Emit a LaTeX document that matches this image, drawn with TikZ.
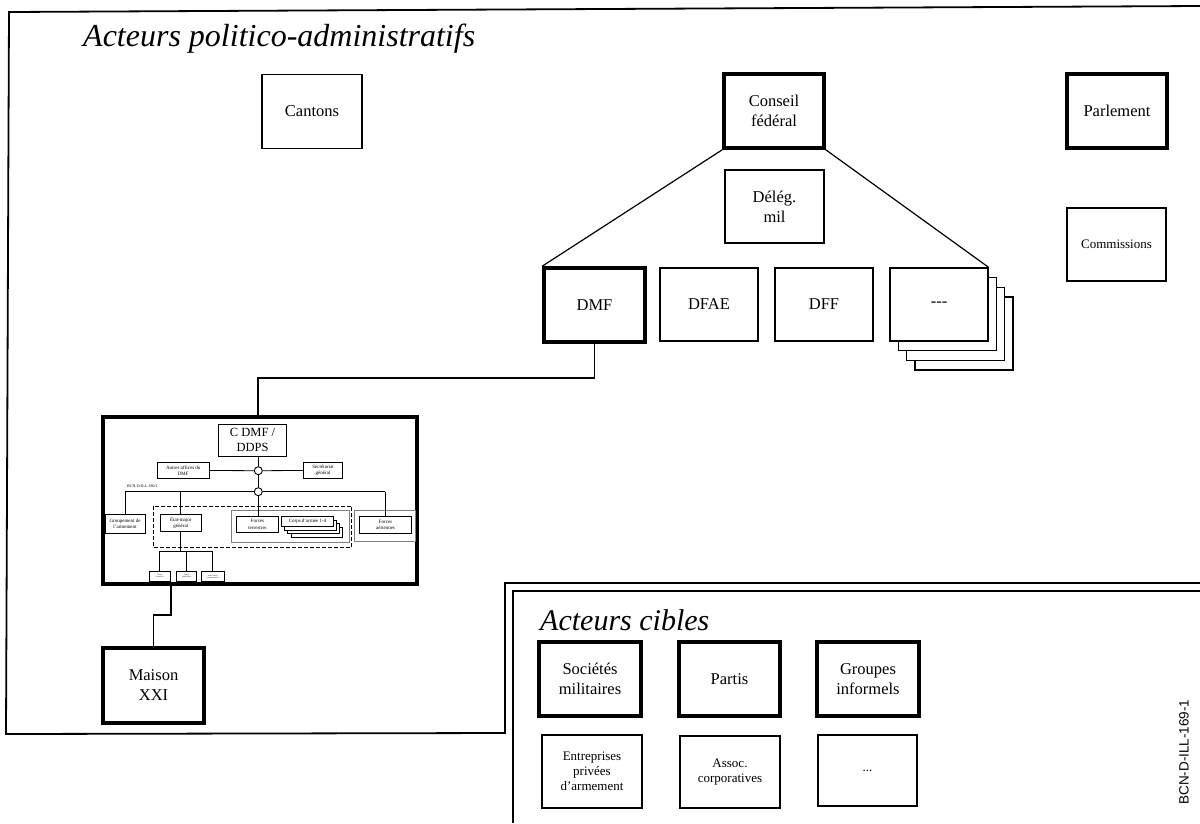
\documentclass[tikz,border=0pt]{standalone}
\usepackage{fontspec}
\setmainfont{Liberation Serif}
\newfontfamily\sansf{Liberation Sans}
\begin{document}
\begin{tikzpicture}[x=1pt,y=-1pt,
  bx/.style={draw, line width=1.3pt, fill=white, inner sep=0pt, align=center, font=\fontsize{16.5}{20}\selectfont},
  tbx/.style={bx, line width=3.6pt},
  smallfont/.style={font=\fontsize{13}{15}\selectfont},
  sbx/.style={draw, line width=0.9pt, fill=white, inner sep=0pt, align=center, font=\fontsize{5}{6.5}\selectfont},
  tiny/.style={draw, line width=0.7pt, fill=white, inner sep=0pt, align=center, font=\fontsize{1.8}{2.4}\selectfont},
  grp/.style={draw=gray, line width=0.6pt},
  frame/.style={line width=1.8pt},
  conn/.style={line width=1.2pt},
  sconn/.style={line width=0.8pt},
  title/.style={anchor=base west, inner sep=0pt, font=\fontsize{32}{36}\selectfont\itshape},
]
\useasboundingbox (0,0) rectangle (1200,823);
% frames
\draw[frame] (1200,6) -- (9,12) -- (6,734) -- (505,733) -- (505,583) -- (1200,583);
\draw[frame] (1200,591) -- (513,591) -- (513,823);

% titles
\node[title] (t1) at (83,46) {Acteurs politico-administratifs};
\node[title, font=\fontsize{30}{34}\selectfont\itshape] (t2) at (540,630) {Acteurs cibles};

% top nodes
\node[bx, minimum width=100, minimum height=74] (cantons) at (312,111.5) {Cantons};
\node[tbx, minimum width=100, minimum height=74] (conseil) at (774,111) {Conseil\\fédéral};
\node[tbx, minimum width=100, minimum height=74] (parl) at (1117,111) {Parlement};
\node[bx, minimum width=99, minimum height=73] (deleg) at (774.5,206.5) {Délég.\\mil};
\node[bx, smallfont, minimum width=99, minimum height=73] (comm) at (1116.5,244.5) {Commissions};

% departments
\node[tbx, minimum width=101, minimum height=74] (dmf) at (594.5,305) {DMF};
\node[bx, minimum width=98, minimum height=73] (dfae) at (709,304.5) {DFAE};
\node[bx, minimum width=98, minimum height=73] (dff) at (824,304.5) {DFF};
\node[bx, minimum width=98, minimum height=73] (etc3) at (964,333.5) {};
\node[bx, minimum width=98, minimum height=73] (etc2) at (955.6,323.9) {};
\node[bx, minimum width=98, minimum height=73] (etc1) at (947.3,314.2) {};
\node[bx, minimum width=98, minimum height=73] (etc) at (939,304.5) {-{}-{}-};

\draw[conn] (conseil.south west) -- (dmf.north west);
\draw[conn] (conseil.south east) -- (etc.north east);

% embedded diagram box
\node[tbx, minimum width=314, minimum height=167] (big) at (260,500.5) {};
\coordinate (j1) at (258,378);
\draw[conn] (dmf.south) |- (j1) -- (j1 |- big.north);

% embedded content
\node[sbx, font=\fontsize{12.5}{15}\selectfont, minimum width=68, minimum height=32] (cdmf) at (252.5,440) {C DMF /\\DDPS};
\node[draw, circle, fill=white, line width=0.9pt, minimum size=8, inner sep=0pt] (c1) at (258.3,470.7) {};
\node[draw, circle, fill=white, line width=0.9pt, minimum size=8, inner sep=0pt] (c2) at (258.3,491.7) {};
\node[sbx, minimum width=52, minimum height=15.6] (autres) at (183.3,470.5) {Autres offices du\\DMF};
\node[sbx, minimum width=39.4, minimum height=15.6] (secr) at (323,470.5) {Secrétariat\\général};
\node[anchor=base west, inner sep=0pt, font=\fontsize{4}{5}\selectfont] (bcn180) at (127,487.5) {BCN-D-ILL-180-1};
\draw[sconn, dashed, dash pattern=on 4pt off 2pt] (153.3,506) rectangle (351.7,547.3);
\draw[grp] (231.7,510.7) rectangle (349.3,542.3);
\draw[grp] (354,510.7) rectangle (415,541.7);
\node[sbx, minimum width=40, minimum height=19.3] (group) at (125,523.7) {Groupement de\\l'armement};
\node[sbx, minimum width=41.7, minimum height=17.7] (etat) at (180.8,522.8) {État-major\\général};
\node[sbx, minimum width=41.6, minimum height=16.7] (fter) at (257.5,524.3) {Forces\\terrestres};
\node[sbx, minimum width=51.6, minimum height=10] (corps3) at (316.8,532.2) {};
\node[sbx, minimum width=51.6, minimum height=10] (corps2) at (313.7,528.7) {};
\node[sbx, minimum width=51.6, minimum height=10] (corps1) at (310.6,525.2) {};
\node[sbx, minimum width=51.6, minimum height=10] (corps) at (307.5,521.7) {Corps d'armée 1-4};
\node[sbx, minimum width=52.4, minimum height=17.3] (faer) at (385.5,524.7) {Forces\\aériennes};

\draw[sconn] (autres.east) -- (c1);
\draw[sconn] (c1) -- (secr.west);
\draw[sconn] (c1 |- cdmf.south) -- (c1);
\draw[sconn] (c1) -- (c2);
\coordinate (hl) at (125,491.7);
\coordinate (hr) at (385,491.7);
\coordinate (he) at (180.7,491.7);
\draw[sconn] (hl) -- (c2) -- (hr);
\draw[sconn] (hl) -- (hl |- group.north);
\draw[sconn] (he) -- (he |- etat.north);
\draw[sconn] (c2) -- (c2 |- fter.north);
\draw[sconn] (hr) -- (hr |- faer.north);

\node[tiny, minimum width=20.7, minimum height=10.7] (tiny1) at (159.7,576.3) {Groupe\\opérations};
\node[tiny, minimum width=20, minimum height=10.7] (tiny2) at (186.7,576.3) {Groupe\\planification};
\node[tiny, minimum width=22.3, minimum height=10] (tiny3) at (212.8,576.7) {Autres unités\\d'administration};
\coordinate (ej) at (180.7,551.7);
\draw[line width=1.5pt] (he |- etat.south) -- (ej);
\draw[sconn] (tiny1.north) |- (ej) -| (tiny3.north);
\draw[sconn] (tiny2.north) -- (tiny2.north |- ej);

% Maison XXI
\node[tbx, minimum width=101, minimum height=75] (maison) at (153.5,685.5) {Maison\\XXI};
\coordinate (j2) at (171,615);
\draw[conn] (j2 |- big.south) -- (j2) -| (maison.north);

% cibles
\node[tbx, minimum width=102, minimum height=74] (soc) at (590,679) {Sociétés\\militaires};
\node[tbx, minimum width=101, minimum height=74] (partis) at (729.5,679) {Partis};
\node[tbx, minimum width=102, minimum height=74] (groupes) at (868,679) {Groupes\\informels};
\node[bx, smallfont, minimum width=100, minimum height=73] (entr) at (592,771.5) {Entreprises\\privées\\d'armement};
\node[bx, smallfont, minimum width=100, minimum height=72] (assoc) at (730,772) {Assoc.\\corporatives};
\node[bx, smallfont, minimum width=99, minimum height=71] (dots) at (867.5,770.5) {...};

\node[rotate=90, inner sep=0pt, font=\sansf\fontsize{13.5}{14}\selectfont] (bcn) at (1184,752) {BCN-D-ILL-169-1};
\end{tikzpicture}
\end{document}
